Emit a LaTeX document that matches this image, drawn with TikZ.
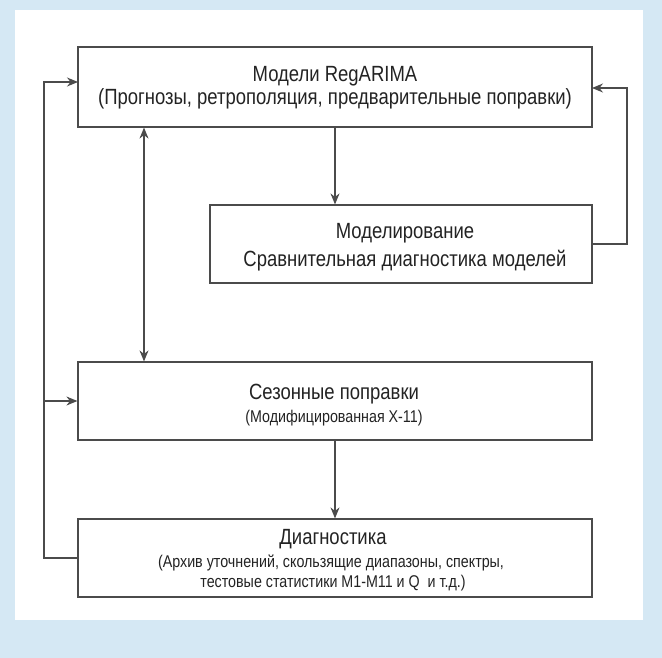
\documentclass[tikz,border=0pt]{standalone}
\usepackage{fontspec}
\setmainfont{Liberation Sans}[FakeStretch=0.84]
\usetikzlibrary{arrows.meta}
\definecolor{bgblue}{RGB}{213,232,244}
\definecolor{linec}{RGB}{75,75,75}
\definecolor{txt}{RGB}{35,35,35}
\begin{document}
\begin{tikzpicture}[x=1pt,y=-1pt,
  box/.style={draw=linec, line width=1.2pt, fill=white, inner sep=0pt},
  bigt/.style={anchor=base, inner sep=0pt, text=txt, font=\fontsize{22}{26}\selectfont},
  smallt/.style={anchor=base, inner sep=0pt, text=txt, font=\fontsize{17}{20}\selectfont},
  conn/.style={draw=linec, line width=1.2pt},
  arr/.style={conn, -{Stealth[length=11pt,width=9pt]}},
  darr/.style={conn, {Stealth[length=11pt,width=9pt]}-{Stealth[length=11pt,width=9pt]}}]
\fill[bgblue] (0,0) rectangle (662,658);
\useasboundingbox (0,0) rectangle (662,658);
\fill[white] (15,10) rectangle (643,620);
\node[box, minimum width=514pt, minimum height=80pt] (b1) at (335,87) {};
\node[box, minimum width=382pt, minimum height=78pt] (b2) at (401,244) {};
\node[box, minimum width=514pt, minimum height=78pt] (b3) at (335,401) {};
\node[box, minimum width=514pt, minimum height=78pt] (b4) at (335,558) {};
\node[bigt] (t1a) at (335,82) {Модели RegARIMA};
\node[bigt] (t1b) at (335,105) {(Прогнозы, ретрополяция, предварительные поправки)};
\node[bigt] (t2a) at (405,239) {Моделирование};
\node[bigt] (t2b) at (405,266) {Сравнительная диагностика моделей};
\node[bigt] (t3a) at (334,399) {Сезонные поправки};
\node[smallt] (t3b) at (334,422) {(Модифицированная X-11)};
\node[bigt] (t4a) at (333,544) {Диагностика};
\node[smallt] (t4b) at (331,567) {(Архив уточнений, скользящие диапазоны, спектры,};
\node[smallt] (t4c) at (333,587) {тестовые статистики M1-M11 и Q\ \ и т.д.)};
\coordinate (dx) at (144,0);
\coordinate (lx) at (44,0);
\coordinate (rx) at (627,0);
\coordinate (lin) at (78,82);
\coordinate (rin) at (592,88);
\draw[arr] (b1.south) -- (b1.south |- b2.north);
\draw[arr] (b2.east) -- (b2.east -| rx) |- (rin);
\draw[darr] (b1.south -| dx) -- (b3.north -| dx);
\draw[arr] (b3.south) -- (b4.north);
\draw[arr] (b4.west) -- (b4.west -| lx) |- (lin);
\draw[arr] (b3.west -| lx) -- (b3.west);
\end{tikzpicture}
\end{document}
